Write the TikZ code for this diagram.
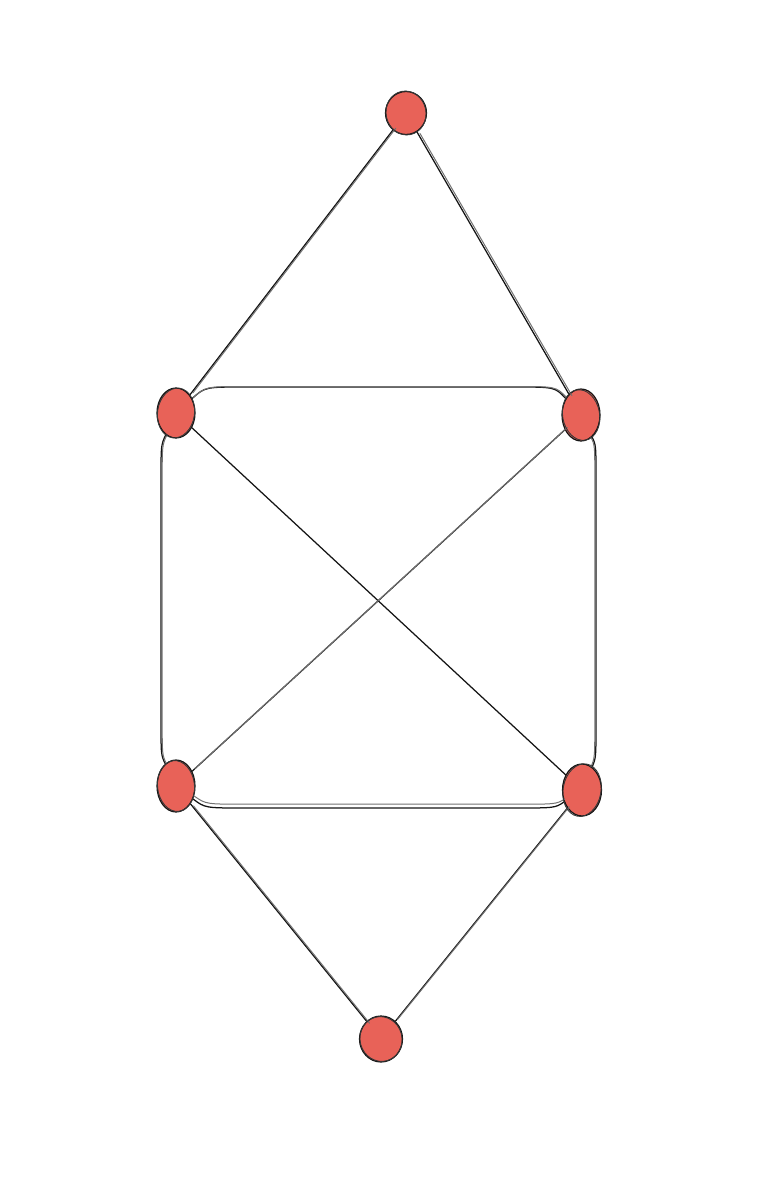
\documentclass[tikz,border=0pt]{standalone}
\usetikzlibrary{shapes.geometric}
\definecolor{vfill}{RGB}{232,98,88}
\definecolor{ink}{RGB}{20,20,20}
\tikzset{
  vtx/.style={ellipse, fill=vfill, draw=ink, line width=1.2pt, inner sep=0pt},
  sk/.style={draw=ink, line width=1.25pt, line cap=round},
  sk2/.style={draw=ink!60, line width=1pt, line cap=round},
}
\begin{document}
\begin{tikzpicture}[x=1pt,y=-1pt]
\useasboundingbox (0,0) rectangle (770,1188);
% nodes
\node[vtx, minimum width=41pt, minimum height=43pt] (T) at (406,113) {};
\node[vtx, minimum width=38pt, minimum height=50pt] (L1) at (176,413) {};
\node[vtx, minimum width=38pt, minimum height=52pt] (R1) at (581,415) {};
\node[vtx, minimum width=38pt, minimum height=52pt] (L2) at (176,786) {};
\node[vtx, minimum width=39pt, minimum height=52pt] (R2) at (582,790) {};
\node[vtx, minimum width=43pt, minimum height=46pt] (B) at (381,1039) {};
% outer cycle (rounded rectangle made of four curved edges)
\draw[sk] (L1) .. controls (205,387) .. (245,387) -- (515,387) .. controls (555,387) .. (R1);
\draw[sk2, transform canvas={shift={(1pt,1.5pt)}}] (L1) .. controls (205,388) .. (245,388) -- (515,388) .. controls (555,388) .. (R1);
\draw[sk] (R1) .. controls (596,445) .. (596,480) -- (596,720) .. controls (596,758) .. (R2);
\draw[sk2, transform canvas={shift={(-1.2pt,0pt)}}] (R1) .. controls (596,445) .. (596,480) -- (596,720) .. controls (596,758) .. (R2);
\draw[sk] (L2) .. controls (205,808) .. (245,808) -- (515,808) .. controls (555,808) .. (R2);
\draw[sk2, transform canvas={shift={(1pt,1.8pt)}}] (L2) .. controls (205,806) .. (245,806) -- (515,806) .. controls (555,806) .. (R2);
\draw[sk] (L1) .. controls (161,445) .. (161,480) -- (161,720) .. controls (161,755) .. (L2);
\draw[sk2, transform canvas={shift={(1.2pt,0pt)}}] (L1) .. controls (161,445) .. (161,480) -- (161,720) .. controls (161,755) .. (L2);
% other edges
\draw[sk] (T) -- (L1);
\draw[sk2, transform canvas={shift={(3pt,2pt)}}] (T) -- (L1);
\draw[sk] (T) -- (R1);
\draw[sk2, transform canvas={shift={(3pt,-1.5pt)}}] (T) -- (R1);
\draw[sk] (L1) -- (R2);
\draw[sk] (R1) -- (L2);
\draw[sk2, transform canvas={shift={(2.5pt,2.5pt)}}] (R1) -- (L2);
\draw[sk] (L2) -- (B);
\draw[sk2, transform canvas={shift={(3pt,-2pt)}}] (L2) -- (B);
\draw[sk] (R2) -- (B);
\draw[sk2, transform canvas={shift={(2pt,1.5pt)}}] (R2) -- (B);
% sketchy second outlines on nodes
\foreach \n/\w/\h/\r in {T/40/44/12, L1/37/50/-8, R1/37/51/10, L2/37/51/6, R2/38/53/-10, B/42/45/15}{
  \draw[ink!85, line width=0.9pt, rotate around={\r:(\n.center)}] (\n.center) ellipse ({\w/2} and {\h/2});
}
\end{tikzpicture}
\end{document}
